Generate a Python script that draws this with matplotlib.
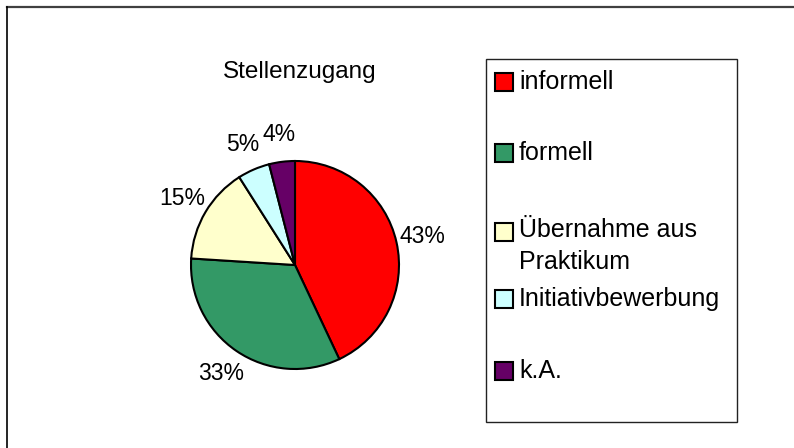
import matplotlib
matplotlib.use("Agg")
import matplotlib.pyplot as plt
from matplotlib.patches import Rectangle
from matplotlib.lines import Line2D

plt.rcParams['font.family'] = ['Liberation Sans', 'DejaVu Sans']

# data
title = "Stellenzugang"
categories = ["informell", "formell", "Übernahme aus\nPraktikum", "Initiativbewerbung", "k.A."]
shares = [43, 33, 15, 5, 4]
colors = ["#FF0000", "#339966", "#FFFFCC", "#CCFFFF", "#660066"]

W, H = 794, 448
fig = plt.figure(figsize=(W / 100, H / 100), dpi=100)

# pie: centre (295, 265) px from top-left, radius ~104 px, limits +-1.4
cx, cy, R, lim = 295, 265, 104, 1.4
side = 2 * lim * R
ax = fig.add_axes([(cx - side / 2) / W, (H - cy - side / 2) / H, side / W, side / H])
ax.pie(shares, colors=colors, startangle=90, counterclock=False,
       autopct='%.0f%%', pctdistance=1.26,
       wedgeprops=dict(edgecolor='black', linewidth=1.5),
       textprops=dict(fontsize=16.5, color='black'))
ax.set_xlim(-lim, lim)
ax.set_ylim(-lim, lim)
ax.set_aspect('equal')
ax.axis('off')

fig.text(300 / W, 1 - 78 / H, title, ha='center', va='baseline', fontsize=17.5)

# legend drawn by hand (Excel style)
lx0, ly0, lx1, ly1 = 486, 59, 737, 422
fig.patches.append(Rectangle((lx0 / W, 1 - ly1 / H), (lx1 - lx0) / W, (ly1 - ly0) / H,
                             transform=fig.transFigure, facecolor='none',
                             edgecolor='#222222', linewidth=1.0))
entry_y = [82, 153, 232, 299, 371]
sq = 18
for cat, col, y in zip(categories, colors, entry_y):
    fig.patches.append(Rectangle((495 / W, 1 - (y + sq / 2) / H), sq / W, sq / H,
                                 transform=fig.transFigure, facecolor=col,
                                 edgecolor='black', linewidth=1.5))
    if '\n' in cat:
        # first line aligned with its square
        fig.text(519 / W, 1 - (y - 14) / H, cat, ha='left', va='top',
                 fontsize=18, linespacing=1.4)
    else:
        fig.text(519 / W, 1 - y / H, cat, ha='left', va='center', fontsize=18)

# outer frame (top and left only)
fig.lines.append(Line2D([7 / W, 1], [1 - 7 / H, 1 - 7 / H], transform=fig.transFigure,
                        color='#404040', linewidth=1.6))
fig.lines.append(Line2D([7 / W, 7 / W], [0, 1 - 7 / H], transform=fig.transFigure,
                        color='black', linewidth=1.2))

fig.savefig("out.png", dpi=100)
